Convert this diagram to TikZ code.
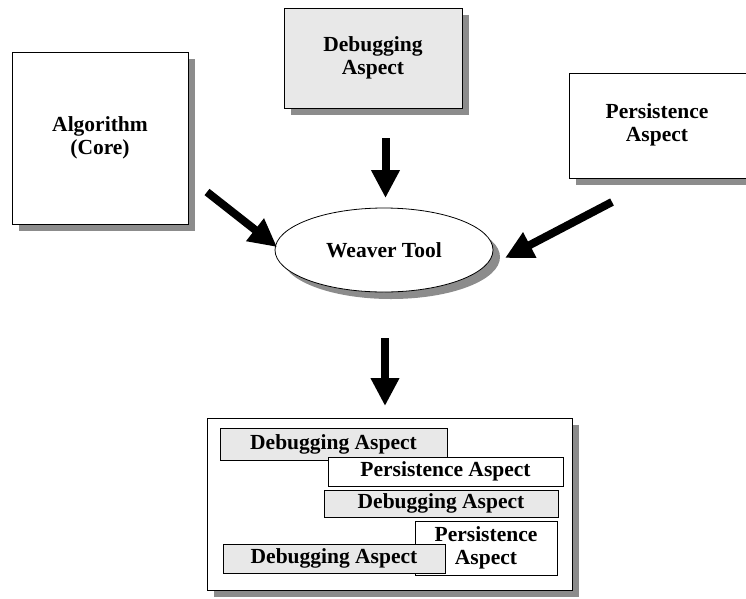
\documentclass[tikz,border=0pt]{standalone}
\usepackage{fontspec}
\setmainfont{Liberation Serif}
\usetikzlibrary{shapes.geometric,shadows,arrows.meta}
\begin{document}
\begin{tikzpicture}[x=1pt,y=-1pt,
  txt/.style={inner sep=0pt, align=center, font=\fontsize{21.5}{22.5}\selectfont\bfseries},
  box/.style={txt, draw=black, line width=0.8pt, fill=white},
  inbox/.style={box, line width=0.6pt},
  grayfill/.style={fill=black!9},
  shad/.style={drop shadow={shadow xshift=7pt, shadow yshift=-7pt, fill=black!45, opacity=1}},
  bigarrow/.style={line width=8pt, -{Triangle[width=27pt,length=28pt]}}]
\clip (0,0) rectangle (746,598);
\fill[white] (0,0) rectangle (746,598);

% top boxes
\node[box, shad, minimum width=176pt, minimum height=172pt] (alg) at (100,138) {Algorithm\\(Core)};
\node[box, shad, grayfill, minimum width=178pt, minimum height=100pt] (dbg) at (373,58) {Debugging\\Aspect};
\node[box, shad, minimum width=200pt, minimum height=105pt, anchor=north west] (pers) at (569,73) {};
\node[txt] (perstext) at (657,125) {Persistence\\Aspect};

% weaver
\node[box, ellipse, shad, minimum width=218pt, minimum height=84pt] (weaver) at (384,250) {Weaver Tool};

% result box
\node[box, shad, minimum width=365pt, minimum height=172pt] (result) at (389.5,504) {};
\node[inbox, grayfill, minimum width=227pt, minimum height=32pt] (r1) at (333.5,444) {Debugging Aspect};
\node[inbox, minimum width=235pt, minimum height=29pt] (r2) at (445.5,471.5) {Persistence Aspect};
\node[inbox, grayfill, minimum width=234pt, minimum height=27pt] (r3) at (441,503.5) {Debugging Aspect};
\node[inbox, minimum width=142pt, minimum height=54pt] (r4) at (486,548) {Persistence\\Aspect};
\node[inbox, grayfill, minimum width=222pt, minimum height=29pt] (r5) at (334,558.5) {Debugging Aspect};

% arrows
\coordinate (algtail) at (207,192);
\coordinate (algtip) at (277,247);
\coordinate (dbgtail) at (385.5,138);
\coordinate (dbgtip) at (385.5,198);
\coordinate (perstail) at (612,202);
\coordinate (perstip) at (505,258);
\coordinate (weavtail) at (385,338);
\coordinate (weavtip) at (385,406);
\draw[bigarrow] (algtail) -- (algtip);
\draw[bigarrow] (dbgtail) -- (dbgtip);
\draw[bigarrow] (perstail) -- (perstip);
\draw[bigarrow] (weavtail) -- (weavtip);
\end{tikzpicture}
\end{document}
